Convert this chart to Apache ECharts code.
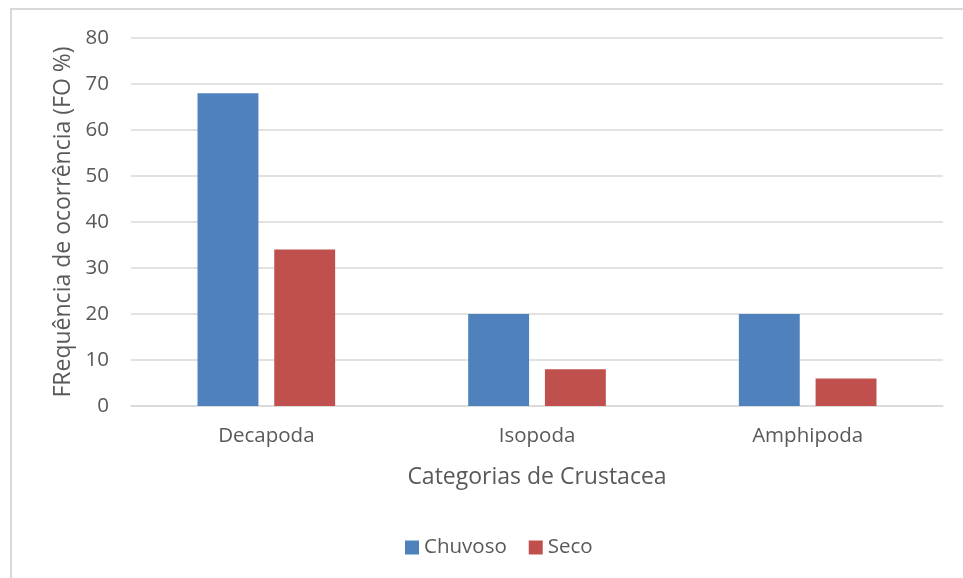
<!DOCTYPE html>
<html>
<head>
<meta charset="utf-8">
<script src="https://cdn.jsdelivr.net/npm/echarts@6/dist/echarts.min.js"></script>
<style>
  html, body { margin: 0; padding: 0; background: #fff; }
  #chart { width: 963px; height: 578px; }
</style>
</head>
<body>
<div id="chart"></div>
<script>
const categories = ['Decapoda', 'Isopoda', 'Amphipoda'];
const chuvoso = [68, 20, 20];
const seco = [34, 8, 6];
const yTicks = [0, 10, 20, 30, 40, 50, 60, 70, 80];

const font = '"Open Sans", "Noto Sans", sans-serif';
const chart = echarts.init(document.getElementById('chart'), null, { renderer: 'canvas' });

chart.setOption({
  animation: false,
  backgroundColor: '#ffffff',
  textStyle: { fontFamily: font },
  graphic: [{
    type: 'rect',
    shape: { x: 11, y: 9, width: 970, height: 590 },
    style: { fill: 'none', stroke: '#d9d9d9', lineWidth: 2 },
    silent: true
  }],
  grid: { left: 131, right: 20, top: 38, bottom: 172, containLabel: false },
  legend: {
    bottom: 15,
    left: 400,
    itemWidth: 14,
    itemHeight: 14,
    itemGap: 22,
    itemTextGap: 7,
    icon: 'rect',
    textStyle: { fontSize: 20.5, color: '#595959', fontFamily: font },
    data: ['Chuvoso', 'Seco']
  },
  xAxis: {
    type: 'category',
    data: categories,
    name: 'Categorias de Crustacea',
    nameLocation: 'middle',
    nameGap: 60,
    nameTextStyle: { fontSize: 23, color: '#595959', fontFamily: font },
    axisLine: { lineStyle: { color: '#d9d9d9', width: 1.5 } },
    axisTick: { show: false },
    axisLabel: { fontSize: 20.5, color: '#595959', margin: 20, fontFamily: font }
  },
  yAxis: {
    type: 'value',
    min: yTicks[0],
    max: yTicks[yTicks.length - 1],
    interval: 10,
    name: 'FRequência de ocorrência (FO %)',
    nameLocation: 'middle',
    nameGap: 53,
    nameTextStyle: { fontSize: 23, color: '#595959', fontFamily: font },
    axisLine: { show: false },
    axisTick: { show: false },
    axisLabel: { fontSize: 20.5, color: '#595959', margin: 22, fontFamily: font },
    splitLine: { lineStyle: { color: '#d9d9d9', width: 1.5 } }
  },
  series: [
    {
      name: 'Chuvoso',
      type: 'bar',
      data: chuvoso,
      barWidth: '22.5%',
      barGap: '26%',
      itemStyle: { color: '#4F81BD' }
    },
    {
      name: 'Seco',
      type: 'bar',
      data: seco,
      barWidth: '22.5%',
      itemStyle: { color: '#C0504D' }
    }
  ]
});
</script>
</body>
</html>
